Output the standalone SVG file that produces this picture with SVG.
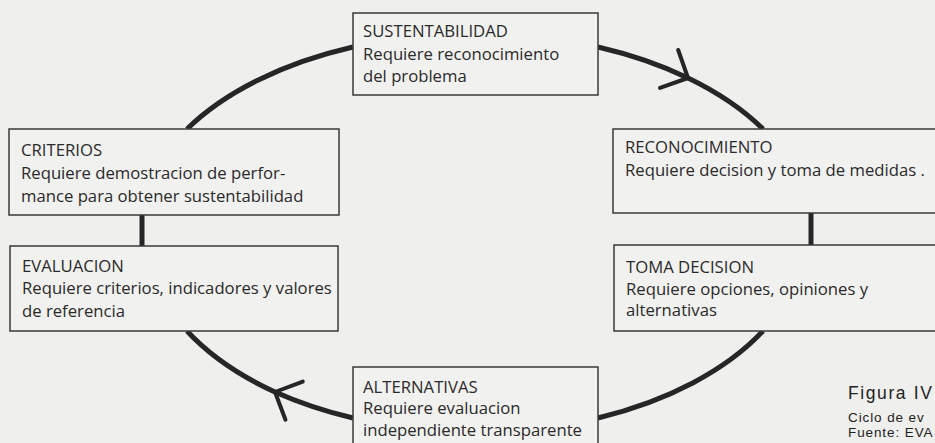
<svg xmlns="http://www.w3.org/2000/svg" width="935" height="443" viewBox="0 0 935 443">
<style>
.bg{fill:#efefed}
.box{fill:#f1f1ef;stroke:#3a3a3a;stroke-width:1.5}
.conn{fill:none;stroke:#262626;stroke-width:5}
.t{font-family:"Open Sans","Noto Sans",sans-serif;font-size:16.7px;fill:#2a2a2a}
.cap1{font-family:"Liberation Sans",Arial,sans-serif;font-size:17.5px;letter-spacing:1.6px;fill:#222}
.cap2{font-family:"Liberation Sans",Arial,sans-serif;font-size:13.5px;letter-spacing:0.9px;fill:#222}
</style>
<defs>
<marker id="chev" markerUnits="userSpaceOnUse" viewBox="-30 -30 40 60" markerWidth="40" markerHeight="60" refX="0" refY="0" orient="auto" overflow="visible">
<path d="M-21 -21 L0 0 L-21 21" fill="none" stroke="#262626" stroke-width="4" stroke-linecap="round" stroke-linejoin="round"/>
</marker>
</defs>
<rect class="bg" x="0" y="0" width="935" height="443"/>
<g id="connectors">
<path class="conn" d="M598 47 A336 196 0 0 1 688 78 A336 196 0 0 1 763 129" marker-mid="url(#chev)"/>
<path class="conn" d="M811 213 L811 245"/>
<path class="conn" d="M763 331 A336 196 0 0 1 598 418"/>
<path class="conn" d="M353 418 A336 196 0 0 1 275 392 A336 196 0 0 1 187 331" marker-mid="url(#chev)"/>
<path class="conn" d="M142 246 L142 215"/>
<path class="conn" d="M187 129 A336 196 0 0 1 353 47"/>
</g>
<g id="sustentabilidad">
<rect class="box" x="353" y="13" width="245" height="82"/>
<text class="t" x="363" y="37">SUSTENTABILIDAD</text>
<text class="t" x="363" y="60">Requiere reconocimiento</text>
<text class="t" x="363" y="82">del problema</text>
</g>
<g id="reconocimiento">
<rect class="box" x="613" y="129" width="340" height="84"/>
<text class="t" x="625" y="153">RECONOCIMIENTO</text>
<text class="t" x="625" y="176">Requiere decision y toma de medidas .</text>
</g>
<g id="toma-decision">
<rect class="box" x="614" y="245" width="340" height="86"/>
<text class="t" x="626" y="273">TOMA DECISION</text>
<text class="t" x="626" y="295">Requiere opciones, opiniones y</text>
<text class="t" x="626" y="316">alternativas</text>
</g>
<g id="alternativas">
<rect class="box" x="353" y="367" width="245" height="90"/>
<text class="t" x="363" y="393">ALTERNATIVAS</text>
<text class="t" x="363" y="414">Requiere evaluacion</text>
<text class="t" x="363" y="436">independiente transparente</text>
</g>
<g id="evaluacion">
<rect class="box" x="10" y="246" width="328" height="85"/>
<text class="t" x="22" y="272">EVALUACION</text>
<text class="t" x="22" y="294">Requiere criterios, indicadores y valores</text>
<text class="t" x="22" y="317">de referencia</text>
</g>
<g id="criterios">
<rect class="box" x="9" y="129" width="330" height="86"/>
<text class="t" x="21" y="156">CRITERIOS</text>
<text class="t" x="21" y="179">Requiere demostracion de perfor-</text>
<text class="t" x="21" y="202">mance para obtener sustentabilidad</text>
</g>
<g id="caption">
<text class="cap1" x="848" y="399">Figura IV</text>
<text class="cap2" x="848" y="422">Ciclo de ev</text>
<text class="cap2" x="848" y="437">Fuente: EVA</text>
</g>
</svg>
